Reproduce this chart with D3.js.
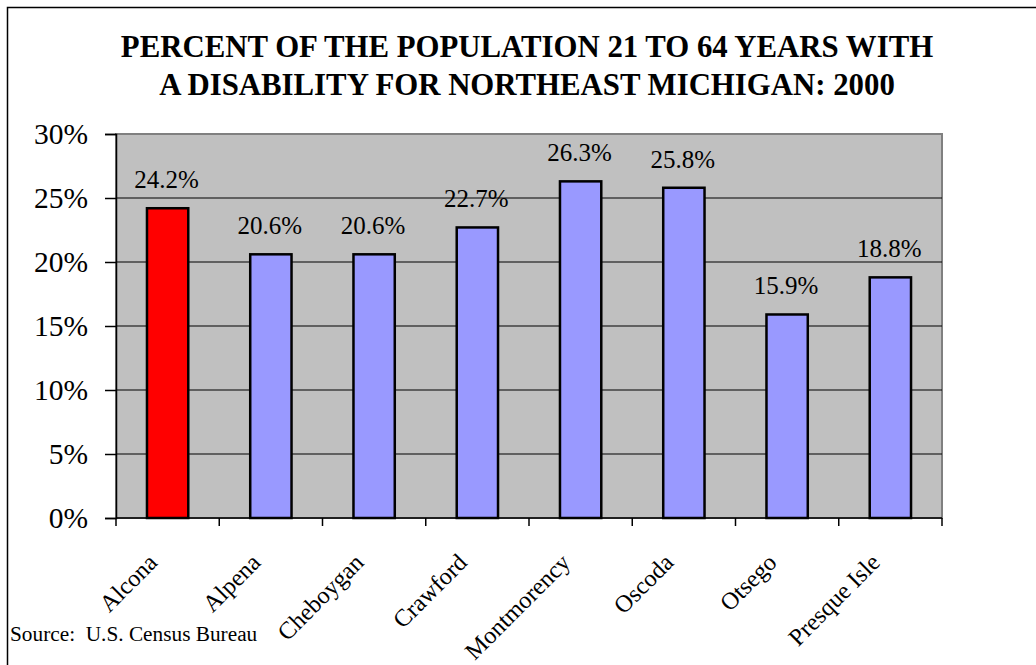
<!DOCTYPE html>
<html><head><meta charset="utf-8">
<script src="https://cdn.jsdelivr.net/npm/d3@7"></script>
<style>body{margin:0;background:#fff;} svg{display:block;}</style>
</head><body>
<svg id="chart" width="1036" height="665"></svg>
<script>
const categories = ["Alcona","Alpena","Cheboygan","Crawford","Montmorency","Oscoda","Otsego","Presque Isle"];
const values = [24.2,20.6,20.6,22.7,26.3,25.8,15.9,18.8];
const highlight = ["Alcona"];
const yTicks = [0,5,10,15,20,25,30];
const titleLines = ["PERCENT OF THE POPULATION 21 TO 64 YEARS WITH","A DISABILITY FOR NORTHEAST MICHIGAN: 2000"];
const sourceText = "Source:  U.S. Census Bureau";

const svg = d3.select("#chart");
const font = "'Liberation Serif','Times New Roman',serif";
const L = 116, R = 942, T = 134, B = 518;

svg.append("rect").attr("x",7.5).attr("y",7.5).attr("width",1040).attr("height",680)
  .attr("fill","#fff").attr("stroke","#000").attr("stroke-width",1.5);

const x = d3.scaleBand().domain(categories).range([L,R]).paddingInner(0.6).paddingOuter(0.3);
const y = d3.scaleLinear().domain([0,30]).range([B,T]);

svg.append("rect").attr("x",L).attr("y",T).attr("width",R-L).attr("height",B-T)
  .attr("fill","#C0C0C0").attr("stroke","#808080").attr("stroke-width",2);

svg.append("g").selectAll("line").data(yTicks.filter(d=>d>0 && d<30)).join("line")
  .attr("x1",L).attr("x2",R).attr("y1",d=>y(d)).attr("y2",d=>y(d))
  .attr("stroke","#000").attr("stroke-width",1.2);

svg.append("g").selectAll("rect").data(values).join("rect")
  .attr("x",(d,i)=>x(categories[i])).attr("width",x.bandwidth())
  .attr("y",d=>y(d)).attr("height",d=>B-y(d))
  .attr("fill",(d,i)=>highlight.includes(categories[i])?"#FF0000":"#9999FF")
  .attr("stroke","#000").attr("stroke-width",2.5);

svg.append("g").selectAll("text").data(values).join("text")
  .attr("x",(d,i)=>x(categories[i])+x.bandwidth()/2-1).attr("y",d=>y(d)-20)
  .attr("text-anchor","middle").attr("font-family",font).attr("font-size",25)
  .text(d=>d.toFixed(1)+"%");

// y axis
const yAxis = d3.axisLeft(y).tickValues(yTicks).tickFormat(d=>d+"%").tickSize(11).tickPadding(17);
const gy = svg.append("g").attr("transform",`translate(${L},0)`).call(yAxis);
gy.attr("font-family",font);
gy.select(".domain").attr("stroke","#000").attr("stroke-width",1.5);
gy.selectAll(".tick line").attr("stroke","#000").attr("stroke-width",1.5);
gy.selectAll(".tick text").attr("font-family",font).attr("font-size",29.5).attr("fill","#000");

// x axis
const xEdges = d3.range(categories.length+1).map(i=>L+i*(R-L)/categories.length);
const gx = svg.append("g");
gx.append("line").attr("x1",L).attr("x2",R).attr("y1",B).attr("y2",B).attr("stroke","#000").attr("stroke-width",1.5);
gx.selectAll(".tk").data(xEdges).join("line").attr("class","tk")
  .attr("x1",d=>d).attr("x2",d=>d).attr("y1",B).attr("y2",B+8).attr("stroke","#000").attr("stroke-width",1.5);
gx.selectAll("text").data(categories).join("text")
  .attr("transform",d=>`translate(${x(d)+x.bandwidth()/2-9},${B+46}) rotate(-45)`)
  .attr("text-anchor","end").attr("font-family",font).attr("font-size",24.2).text(d=>d);

// title
svg.append("g").selectAll("text").data(titleLines).join("text")
  .attr("x",527).attr("y",(d,i)=>56.5+i*38.5).attr("text-anchor","middle")
  .attr("font-family",font).attr("font-weight","bold").attr("font-size",30.8).text(d=>d);

svg.append("text").attr("x",10).attr("y",641).attr("font-family",font).attr("font-size",21.3)
  .attr("xml:space","preserve").style("white-space","pre").text(sourceText);
</script>
</body></html>
